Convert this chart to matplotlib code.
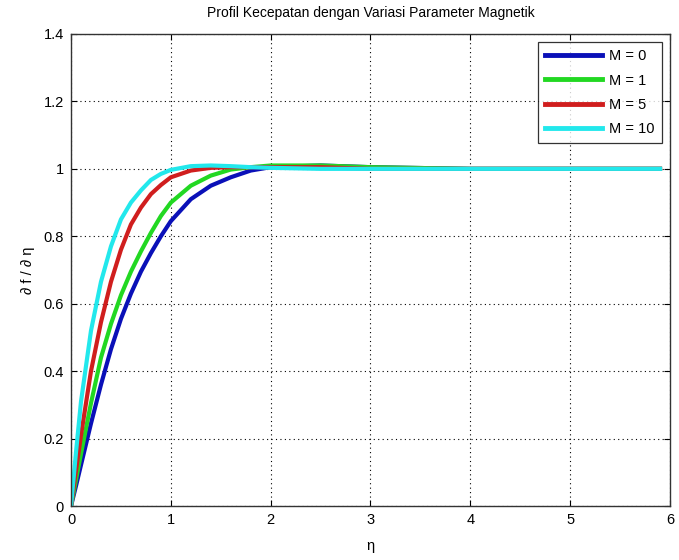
import matplotlib
matplotlib.use("Agg")
import matplotlib.pyplot as plt

plt.rcParams['font.family'] = ['Liberation Sans', 'DejaVu Sans']

eta = [0, 0.05, 0.1, 0.2, 0.3, 0.4, 0.5, 0.6, 0.7, 0.8, 0.9, 1.0, 1.2, 1.4, 1.6, 1.8, 2.0, 2.5, 3.0, 4.0, 5.0, 5.9]

m0 = [0, 0.06, 0.122, 0.245, 0.36, 0.465, 0.555, 0.63, 0.695, 0.75, 0.80, 0.845, 0.91, 0.95, 0.975, 0.995, 1.005, 1.01, 1.005, 1.0, 1.0, 1.0]
m1 = [0, 0.078, 0.155, 0.305, 0.44, 0.54, 0.625, 0.695, 0.755, 0.81, 0.86, 0.90, 0.95, 0.98, 0.998, 1.005, 1.01, 1.01, 1.005, 1.0, 1.0, 1.0]
m5 = [0, 0.105, 0.21, 0.40, 0.545, 0.665, 0.76, 0.835, 0.885, 0.925, 0.952, 0.975, 0.995, 1.003, 1.005, 1.005, 1.005, 1.005, 1.0, 1.0, 1.0, 1.0]
m10 = [0, 0.16, 0.31, 0.52, 0.665, 0.77, 0.85, 0.90, 0.936, 0.967, 0.985, 0.997, 1.008, 1.01, 1.008, 1.005, 1.003, 1.0, 1.0, 1.0, 1.0, 1.0]

series = [m0, m1, m5, m10]
labels = ['M = 0', 'M = 1', 'M = 5', 'M = 10']
colors = ['#0a10b8', '#22d822', '#d01e1e', '#22e8ec']

xticks = [0, 1, 2, 3, 4, 5, 6]
yticks = [0, 0.2, 0.4, 0.6, 0.8, 1.0, 1.2, 1.4]
yticklabels = ['0', '0.2', '0.4', '0.6', '0.8', '1', '1.2', '1.4']

fig = plt.figure(figsize=(6.79, 5.6), dpi=100)
ax = fig.add_axes([0.1046, 0.0964, 0.8821, 0.8429])

for ys, lab, c in zip(series, labels, colors):
    ax.plot(eta, ys, color=c, linewidth=3, label=lab, solid_joinstyle='round')

ax.set_xlim(0, 6)
ax.set_ylim(0, 1.4)
ax.set_xticks(xticks)
ax.set_xticklabels([str(t) for t in xticks])
ax.set_yticks(yticks)
ax.set_yticklabels(yticklabels)
ax.grid(True, linestyle=(0, (1, 3)), color='black', linewidth=0.8)
ax.tick_params(direction='in', top=True, right=True, labelsize=10.5, length=4, pad=5)
for s in ax.spines.values():
    s.set_linewidth(1.0)
    s.set_color('#333333')

ax.set_title('Profil Kecepatan dengan Variasi Parameter Magnetik', fontsize=10, pad=12)
ax.set_xlabel('η', fontsize=10.5, labelpad=9)
ax.set_ylabel('∂ f / ∂ η', fontsize=10.5, labelpad=6)

leg = ax.legend(loc='upper right', fontsize=10.5, frameon=True, fancybox=False,
                edgecolor='black', handlelength=3.9, borderaxespad=0.55,
                labelspacing=0.7, handletextpad=0.5, borderpad=0.5)
leg.get_frame().set_linewidth(0.9)
for h in leg.get_lines():
    h.set_linewidth(3.5)

fig.savefig('out.png', dpi=100, facecolor='white')
